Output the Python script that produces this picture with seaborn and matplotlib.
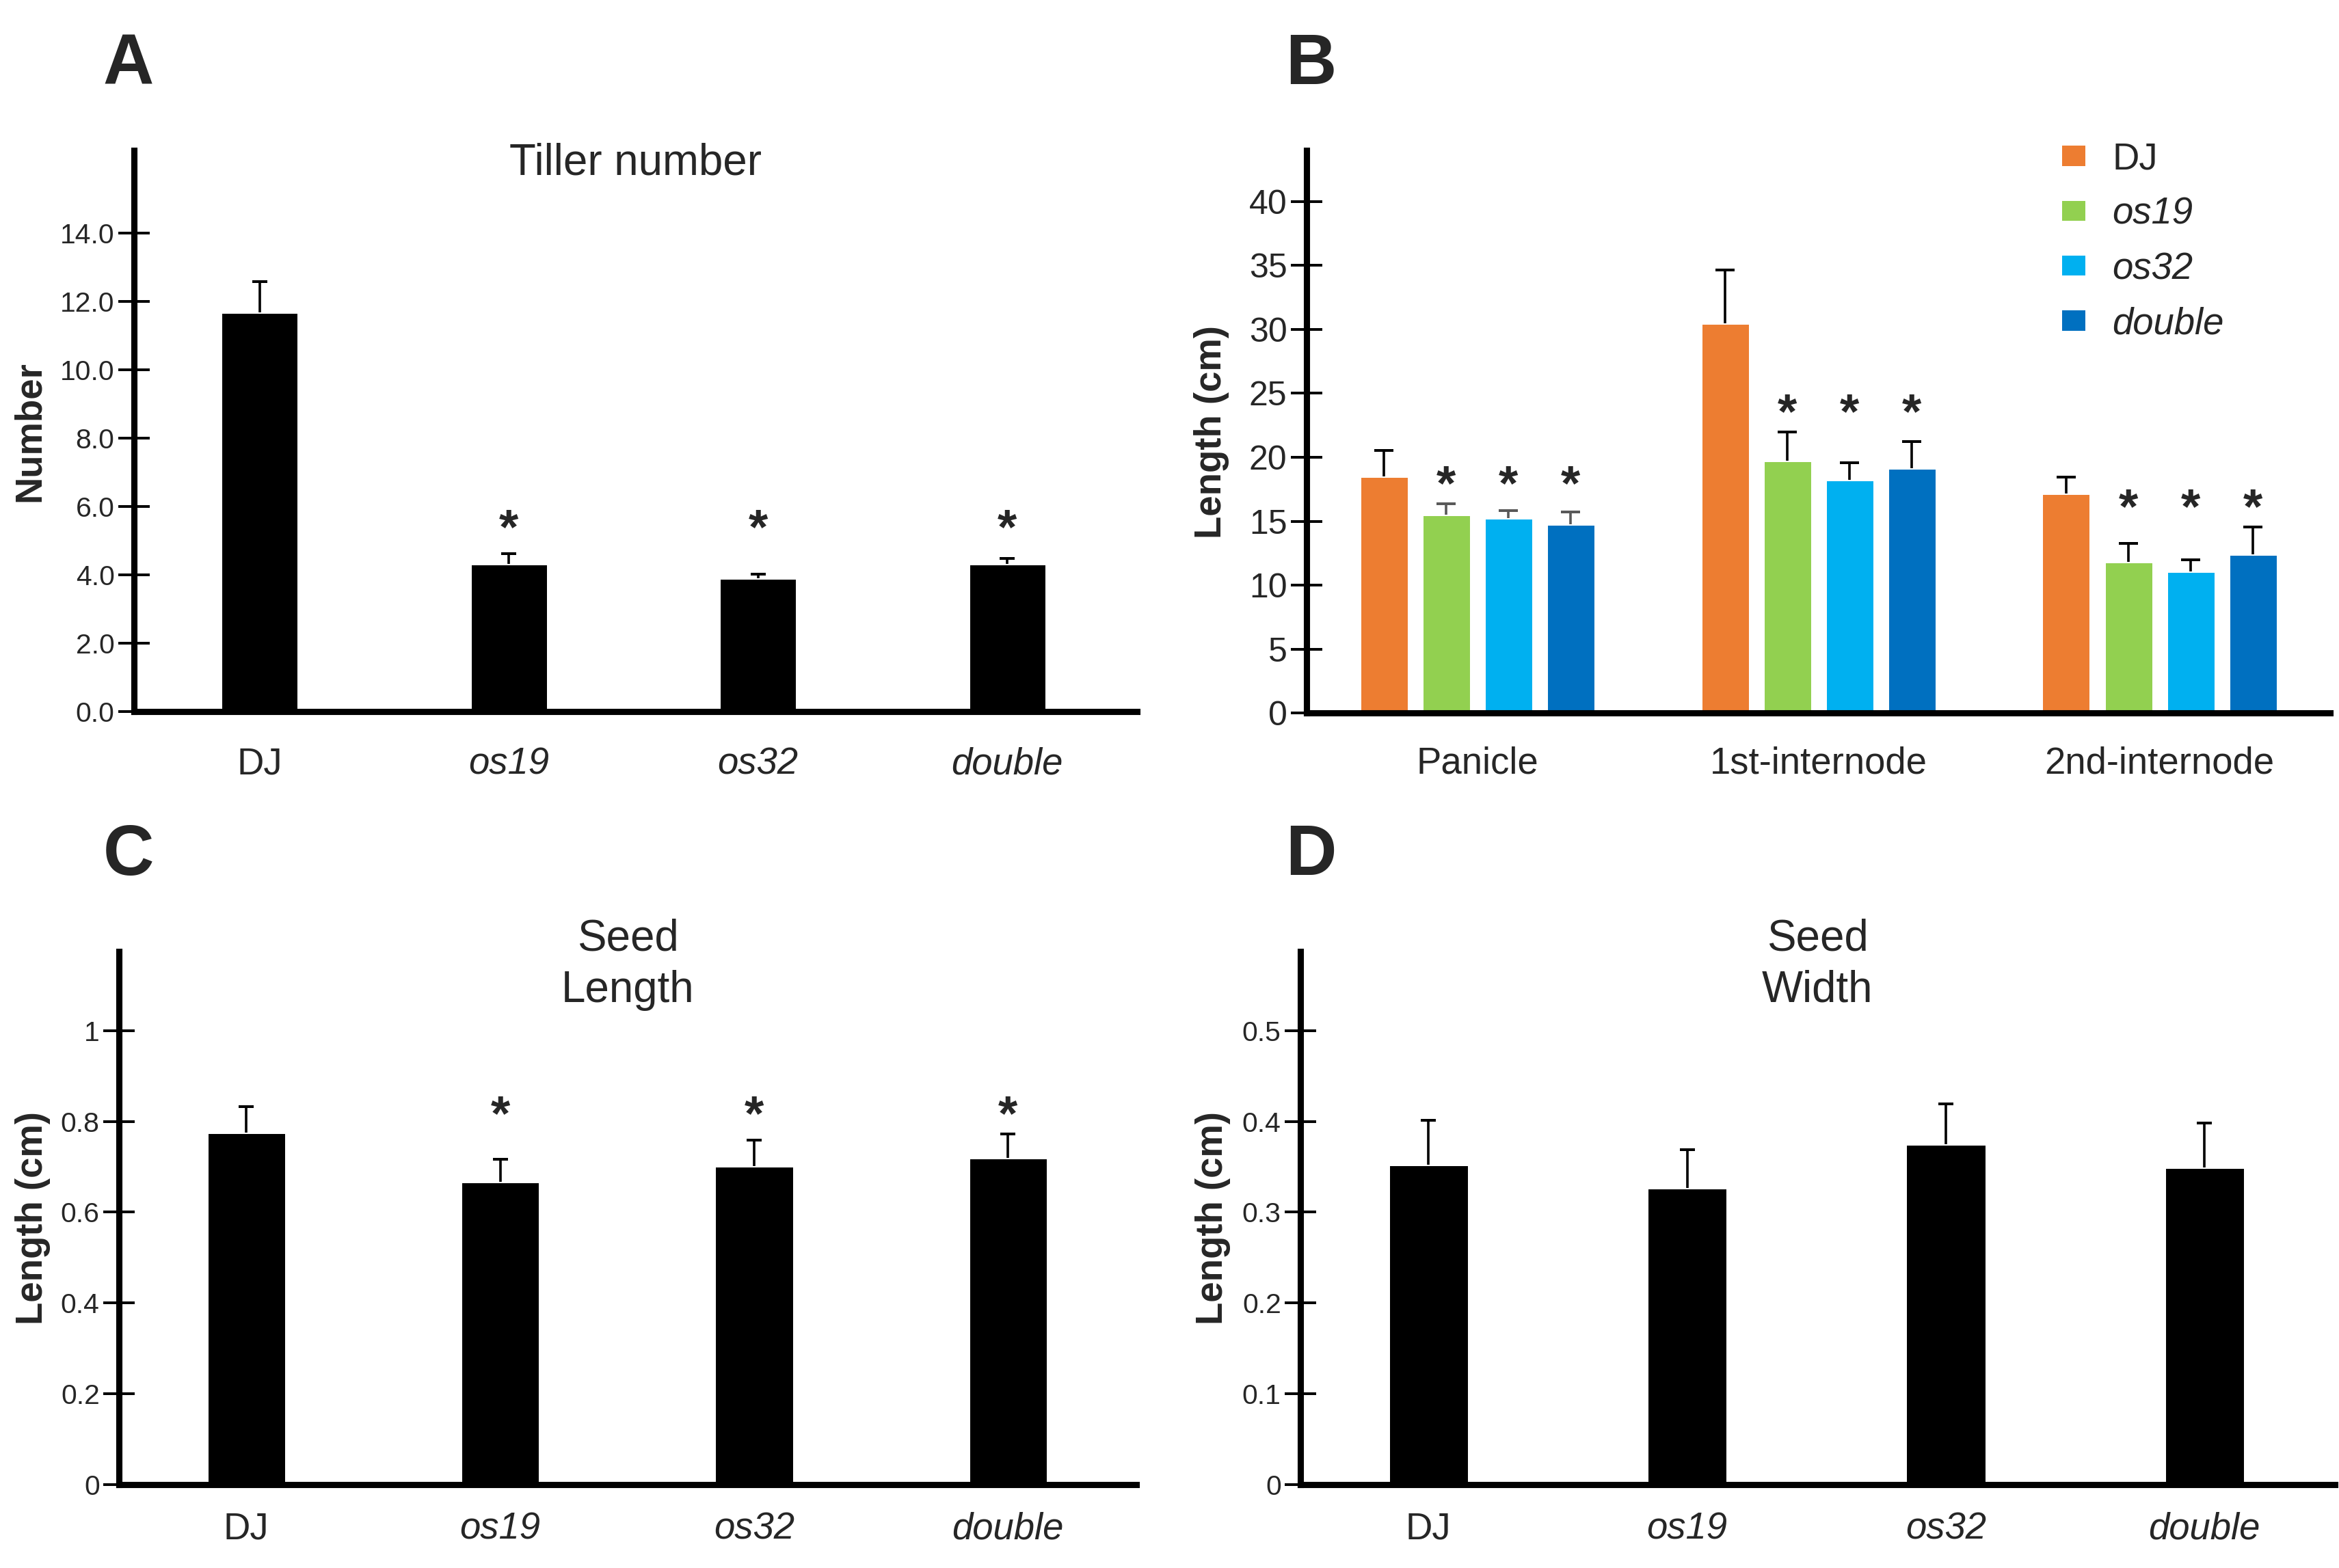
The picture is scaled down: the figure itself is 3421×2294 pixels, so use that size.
import numpy as np
import pandas as pd
import matplotlib
matplotlib.use("Agg")
import matplotlib.pyplot as plt
from matplotlib.patches import Patch
import seaborn as sns

# ---------------- data ----------------
GENOTYPES = ["DJ", "os19", "os32", "double"]

tiller_mean = [11.68, 4.32, 3.90, 4.32]
tiller_err = [0.90, 0.30, 0.11, 0.15]
tiller_sig = [False, True, True, True]

ORGANS = ["Panicle", "1st-internode", "2nd-internode"]
len_DJ = [18.52, 30.45, 17.15]
len_os19 = [15.49, 19.74, 11.80]
len_os32 = [15.24, 18.21, 11.08]
len_double = [14.74, 19.13, 12.42]
err_DJ = [2.02, 4.19, 1.32]
err_os19 = [0.86, 2.24, 1.49]
err_os32 = [0.60, 1.37, 0.90]
err_double = [0.97, 2.10, 2.12]
organ_sig = [False, True, True, True]

seedlen_mean = [0.775, 0.667, 0.702, 0.719]
seedlen_err = [0.058, 0.050, 0.057, 0.053]
seedlen_sig = [False, True, True, True]

seedwid_mean = [0.352, 0.327, 0.375, 0.349]
seedwid_err = [0.049, 0.042, 0.044, 0.049]
seedwid_sig = [False, False, False, False]

# ---------------- style ----------------
B_COLORS = ["#ED7D31", "#92D050", "#00B0F0", "#0070C0"]
MUTANTS = set(GENOTYPES[1:])
DPI = 218.18
sns.set_style("white")
plt.rcParams["font.family"] = ["Liberation Sans", "DejaVu Sans"]

fig = plt.figure(figsize=(3421 / DPI, 2294 / DPI), dpi=DPI)

SPINE_W = 3.0
TICK_FS_X = 18
STAR_FS = 24
STAR_GAP = 2.0  # points, baseline offset above highest error bar
ERR_LW = 1.2


def draw_err(ax, xs, hs, errs, colors, cap_pt):
    """Upper-only error bars with a single cap at the top."""
    for x, h, e, c in zip(xs, hs, errs, colors):
        ax.errorbar([x], [h], yerr=[[0], [e]], fmt="none", ecolor=c,
                    elinewidth=ERR_LW, capsize=0, zorder=3)
        ax.plot([x], [h + e], ls="none", marker="_", markersize=cap_pt,
                markeredgewidth=ERR_LW * 1.1, color=c, zorder=3)


def style_axes(ax, ylim, xlim, yticks, ylabels, ytick_fs, xpad):
    sns.despine(ax=ax)
    for s in ["left", "bottom"]:
        ax.spines[s].set_linewidth(SPINE_W)
        ax.spines[s].set_color("black")
    ax.set_ylim(*ylim)
    ax.set_xlim(*xlim)
    ax.set_yticks(yticks)
    ax.set_yticklabels(ylabels, fontsize=ytick_fs)
    ax.tick_params(axis="y", direction="inout", length=15, width=1.3,
                   color="black", pad=2, left=True)
    ax.tick_params(axis="x", length=0, pad=xpad, labelsize=TICK_FS_X)
    for lbl in ax.get_xticklabels():
        if lbl.get_text() in MUTANTS:
            lbl.set_fontstyle("italic")
    ax.set_xlabel("")
    ax.set_ylabel("")
    ax.grid(False)


def simple_panel(rect, means, errs, sig, ylim, xlim, yticks, ylabels,
                 ytick_fs, title, title_y, ylabel, ylabel_x, xpad, star_gap):
    ax = fig.add_axes(rect)
    df = pd.DataFrame({"genotype": GENOTYPES, "value": means})
    sns.barplot(data=df, x="genotype", y="value", color="black",
                width=0.31, errorbar=None, saturation=1, ax=ax)
    bars = ax.containers[0]
    xs = [p.get_x() + p.get_width() / 2 for p in bars]
    hs = [p.get_height() for p in bars]
    draw_err(ax, xs, hs, errs, ["black"] * len(xs), 7.5)
    starred = [h + e for h, e, s in zip(hs, errs, sig) if s]
    if starred:
        ystar = max(starred)
        for x, s in zip(xs, sig):
            if s:
                ax.annotate("*", xy=(x, ystar), xytext=(0, star_gap),
                            textcoords="offset points", ha="center",
                            va="baseline", fontsize=STAR_FS,
                            fontweight="bold")
    style_axes(ax, ylim, xlim, yticks, ylabels, ytick_fs, xpad)
    ax.text(0.5, title_y, title, transform=ax.transAxes, ha="center",
            va="center", fontsize=21, linespacing=1.32)
    ax.text(ylabel_x, 0.5, ylabel, transform=ax.transAxes, rotation=90,
            ha="center", va="center", fontsize=18, fontweight="bold")
    return ax


# Panel A
simple_panel([0.0574, 0.5462, 0.4286, 0.3577], tiller_mean, tiller_err,
             tiller_sig, (0, 16.4), (-0.503, 3.52),
             np.arange(0, 15, 2), [f"{v:.1f}" for v in np.arange(0, 15, 2)],
             13.5, "Tiller number", 0.978, "Number", -0.104, 17, 5.0)

# Panel C
simple_panel([0.0510, 0.0533, 0.4349, 0.3397], seedlen_mean, seedlen_err,
             seedlen_sig, (0, 1.174), (-0.5, 3.506),
             [0, 0.2, 0.4, 0.6, 0.8, 1.0], ["0", "0.2", "0.4", "0.6", "0.8", "1"],
             13.5, "Seed\nLength", 0.976, "Length (cm)", -0.085, 13, STAR_GAP)

# Panel D
simple_panel([0.5561, 0.0533, 0.4420, 0.3397], seedwid_mean, seedwid_err,
             seedwid_sig, (0, 0.587), (-0.494, 3.503),
             [0, 0.1, 0.2, 0.3, 0.4, 0.5], ["0", "0.1", "0.2", "0.3", "0.4", "0.5"],
             13.5, "Seed\nWidth", 0.976, "Length (cm)", -0.085, 13, STAR_GAP)

# Panel B
axB = fig.add_axes([0.5587, 0.5452, 0.4375, 0.3587])
means_B = [len_DJ, len_os19, len_os32, len_double]
errs_B = [err_DJ, err_os19, err_os32, err_double]
dfB = pd.DataFrame({
    "organ": ORGANS * 4,
    "genotype": [g for g in GENOTYPES for _ in ORGANS],
    "value": [v for m in means_B for v in m],
})
sns.barplot(data=dfB, x="organ", y="value", hue="genotype", order=ORGANS,
            hue_order=GENOTYPES, palette=B_COLORS, width=0.73, gap=0.22,
            saturation=1, errorbar=None, legend=False, ax=axB)
ERR_COLOR_B = {("Panicle", "os19"): "#595959", ("Panicle", "os32"): "#595959",
               ("Panicle", "double"): "#595959"}
bar_xy = {}
for gi, (g, cont) in enumerate(zip(GENOTYPES, axB.containers)):
    for oi, (o, p) in enumerate(zip(ORGANS, cont)):
        x = p.get_x() + p.get_width() / 2
        h = p.get_height()
        e = errs_B[gi][oi]
        bar_xy[(o, g)] = (x, h + e)
        draw_err(axB, [x], [h], [e], [ERR_COLOR_B.get((o, g), "black")], 9.0)
for o in ORGANS:
    tops = [bar_xy[(o, g)][1] for g, s in zip(GENOTYPES, organ_sig) if s]
    ystar = max(tops)
    for g, s in zip(GENOTYPES, organ_sig):
        if s:
            axB.annotate("*", xy=(bar_xy[(o, g)][0], ystar), xytext=(0, STAR_GAP),
                         textcoords="offset points", ha="center", va="baseline",
                         fontsize=STAR_FS, fontweight="bold")
style_axes(axB, (0, 43.96), (-0.5, 2.5), np.arange(0, 41, 5),
           [str(v) for v in np.arange(0, 41, 5)], 16.5, 16)
axB.text(-0.093, 0.5, "Length (cm)", transform=axB.transAxes, rotation=90,
         ha="center", va="center", fontsize=18, fontweight="bold")
handles = [Patch(facecolor=c, edgecolor="none", label=g)
           for c, g in zip(B_COLORS, GENOTYPES)]
leg = axB.legend(handles=handles, loc="upper left", bbox_to_anchor=(0.738, 1.016),
                 frameon=False, fontsize=18, handlelength=0.62, handleheight=0.45,
                 handletextpad=0.73, labelspacing=0.52, borderpad=0,
                 borderaxespad=0)
for t in leg.get_texts()[1:]:
    t.set_fontstyle("italic")

# Panel letters
for letter, x, y in [("A", 0.0440, 0.9465), ("B", 0.5497, 0.9465),
                     ("C", 0.0440, 0.4420), ("D", 0.5497, 0.4420)]:
    fig.text(x, y, letter, ha="left", va="baseline", fontsize=34,
             fontweight="bold")

fig.savefig("out.png", dpi=DPI)
